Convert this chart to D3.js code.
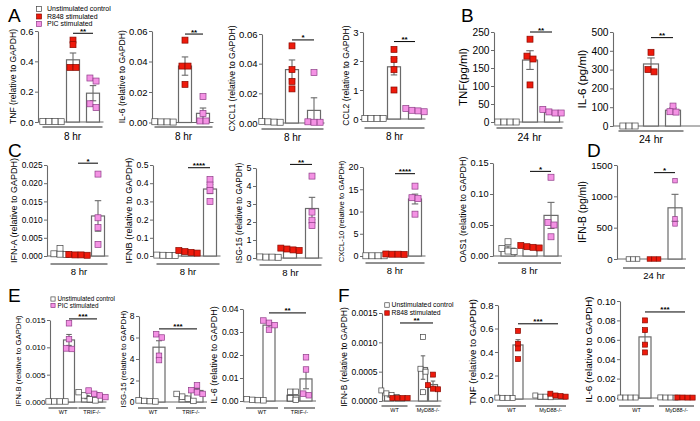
<!DOCTYPE html>
<html><head><meta charset="utf-8">
<script src="https://cdn.jsdelivr.net/npm/d3@7"></script>
<style>body{margin:0;background:#fff}svg{display:block}text{font-family:"Liberation Sans",Arial,sans-serif;fill:#000}</style>
</head><body><svg id="c" width="700" height="421"></svg>
<script>
// ---------- DATA ----------
const groups3 = ["Unstimulated control","R848 stimulated","PIC stimulated"];
const groupsE = ["WT Unstim","WT PIC","TRIF-/- Unstim","TRIF-/- PIC"];
const groupsF = ["WT Unstim","WT R848","MyD88-/- Unstim","MyD88-/- R848"];
const legendA = ["Unstimulated control","R848 stimulated","PIC stimulated"];
const legendE = ["Unstimulated control","PIC stimulated"];
const legendF = ["Unstimulated control","R848 stimulated"];

// A
const a1Mean=[0.003,0.41,0.19], a1Sem=[0.001,0.045,0.05];
const a1Pts=[[0.004,0.003,0.003,0.002],[0.54,0.51,0.36,0.36],[0.29,0.27,0.12,0.095]];
const a1Ticks=[0,0.2,0.4,0.6];
const a2Mean=[0.0004,0.037,0.006], a2Sem=[0.0001,0.006,0.0035];
const a2Pts=[[0.0005,0.0004,0.0003,0.0004],[0.054,0.037,0.037,0.025],[0.017,0.006,0.001,0.001]];
const a2Ticks=[0,0.02,0.04,0.06];
const a3Mean=[0.0007,0.036,0.0085], a3Sem=[0.0002,0.0065,0.0085];
const a3Pts=[[0.001,0.0006,0.0005,0.0008],[0.052,0.036,0.028,0.023],[0.034,0.0008,0.0005,0.0005]];
const a3Ticks=[0,0.02,0.04,0.06];
const a4Mean=[0.02,1.8,0.3], a4Sem=[0.005,0.28,0.03];
const a4Pts=[[0.02,0.02,0.02,0.02],[2.4,2.05,1.7,1.0],[0.36,0.3,0.28,0.25]];
const a4Ticks=[0,1,2,3];
// B
const b1Mean=[0,172,27], b1Sem=[0,26,3];
const b1Pts=[[0,0,0,0],[230,183,175,103],[35,28,25,25]];
const b1Ticks=[0,50,100,150,200,250];
const b2Mean=[0,330,84], b2Sem=[0,32,12];
const b2Pts=[[0,0,0],[392,300,288],[106,76,74]];
const b2Ticks=[0,100,200,300,400,500];
// C
const c1Mean=[0.0009,0.0003,0.011], c1Sem=[0.0004,0.0001,0.0042];
const c1Pts=[[0.0021,0.0006,0.0004,0.0005],[0.0004,0.0003,0.0003,0.0002],[0.0225,0.0105,0.0078,0.0032]];
const c1Ticks=[0,0.005,0.010,0.015,0.020,0.025];
const c2Mean=[0.004,0.022,0.368], c2Sem=[0.001,0.003,0.025];
const c2Pts=[[0.005,0.003,0.003,0.004],[0.03,0.024,0.02,0.016],[0.42,0.39,0.36,0.30]];
const c2Ticks=[0,0.1,0.2,0.3,0.4,0.5];
const c3Mean=[0.05,0.45,2.75], c3Sem=[0.01,0.03,0.62];
const c3Pts=[[0.06,0.05,0.05,0.04],[0.55,0.5,0.45,0.42],[4.55,2.55,2.1,1.8]];
const c3Ticks=[0,1,2,3,4,5];
const c4Mean=[0.05,0.4,12.8], c4Sem=[0.01,0.05,1.1];
const c4Pts=[[0.05,0.05,0.05,0.05],[0.45,0.4,0.4,0.35],[15.7,13.1,12.9,9.4]];
const c4Ticks=[0,5,10,15,20];
const c5Mean=[0.0125,0.015,0.0655], c5Sem=[0.0035,0.001,0.021];
const c5Pts=[[0.023,0.012,0.008,0.007],[0.017,0.015,0.014,0.013],[0.127,0.054,0.05,0.031]];
const c5Ticks=[0,0.05,0.10,0.15];
// D
const d1Mean=[0,0,817], d1Sem=[0,0,215];
const d1Pts=[[0,0,0],[0,0,0],[1250,640,560]];
const d1Ticks=[0,500,1000,1500];
// E
const e1Mean=[0.0001,0.01135,0.0009,0.0014], e1Sem=[0.00003,0.001,0.0003,0.0003];
const e1Pts=[[0.0001,0.0001,0.0001,0.0001],[0.0144,0.0115,0.0098,0.0097],[0.0018,0.0012,0.0005,0.0003],[0.0021,0.0015,0.0012,0.0009]];
const e1Ticks=[0,0.005,0.010,0.015];
const e2Mean=[0.1,5.1,0.41,1.07], e2Sem=[0.03,0.6,0.14,0.18];
const e2Pts=[[0.15,0.1,0.08,0.05],[6.3,6.0,4.3,3.9],[0.75,0.5,0.3,0.1],[1.55,1.1,0.9,0.75]];
const e2Ticks=[0,2,4,6,8];
const e3Mean=[0.0005,0.033,0.0025,0.0096], e3Sem=[0.0002,0.001,0.001,0.0043];
const e3Pts=[[0.0008,0.0005,0.0004,0.0003],[0.035,0.034,0.033,0.031],[0.004,0.004,0.0012,0.0005],[0.019,0.0137,0.0032,0.0025]];
const e3Ticks=[0,0.01,0.02,0.03,0.04];
// F
const f1Mean=[0.0001,0.00005,0.00057,0.00028], f1Sem=[0.00003,0.000005,0.0002,0.00006];
const f1Pts=[[0.00018,0.00013,0.0001,0.00007],[0.00005,0.00005,0.00005,0.00005],[0.00109,0.00055,0.0005,0.00015],[0.00045,0.00027,0.00021,0.0002]];
const f1Ticks=[0,0.0005,0.0010,0.0015];
const f2Mean=[0.01,0.46,0.02,0.03], f2Sem=[0.002,0.045,0.004,0.006];
const f2Pts=[[0.012,0.01,0.01,0.008],[0.58,0.47,0.43,0.34],[0.03,0.02,0.02,0.015],[0.045,0.03,0.025,0.02]];
const f2Ticks=[0,0.2,0.4,0.6,0.8];
const f3Mean=[0.0005,0.063,0.0005,0.0005], f3Sem=[0.0001,0.0075,0.0001,0.0001];
const f3Pts=[[0.0005,0.0005,0.0005,0.0005],[0.08,0.07,0.055,0.047],[0.0006,0.0005,0.0005,0.0004],[0.0005,0.0005,0.0004,0.0004]];
const f3Ticks=[0,0.02,0.04,0.06,0.08,0.10];

// ---------- STYLES ----------
const kindStyle = {
  u:{fill:"#fff", stroke:"#444"},
  r:{fill:"#ee1a0c", stroke:"#8a0a00"},
  p:{fill:"#f492e4", stroke:"#8e3c88"}
};
const K3=["u","r","p"], KE=["u","p","u","p"], KF=["u","r","u","r"];

// ---------- LAYOUT ----------
const panels = [
 {g:groups3,m:a1Mean,s:a1Sem,p:a1Pts,t:a1Ticks,f:".1f",yl:"TNF (relative to GAPDH)",ylfs:8.6,tfs:9.5,ax:38,top:31,zero:122,xs:[52,73,93],bw:13,ms:6,k:K3,sig:[1,2,0.585,"**"],grp:[[0,2,"8 hr",127,140,10]]},
 {g:groups3,m:a2Mean,s:a2Sem,p:a2Pts,t:a2Ticks,f:".2f",yl:"IL-6 (relative to GAPDH)",ylfs:8.6,tfs:9.5,ax:152,top:31,zero:122.5,xs:[164,185,203],bw:13,ms:6,k:K3,sig:[1,2,0.058,"**"],grp:[[0,2,"8 hr",127,140,10]]},
 {g:groups3,m:a3Mean,s:a3Sem,p:a3Pts,t:a3Ticks,f:".2f",yl:"CXCL1 (relative to GAPDH)",ylfs:8.6,tfs:9.5,ax:262,top:34,zero:123,xs:[271,292,314],bw:13,ms:6,k:K3,sig:[1,2,0.056,"*"],grp:[[0,2,"8 hr",129,141,10]]},
 {g:groups3,m:a4Mean,s:a4Sem,p:a4Pts,t:a4Ticks,f:"d",yl:"CCL2 (relative to GAPDH)",ylfs:8.6,tfs:9.5,ax:363,top:32,zero:119,xs:[374,394,415],bw:13,ms:6,k:K3,sig:[1,2,2.67,"**"],grp:[[0,2,"8 hr",128,140,10]]},
 {g:groups3,m:b1Mean,s:b1Sem,p:b1Pts,t:b1Ticks,f:"d",yl:"TNF(pg/ml)",ylfs:11.5,tfs:10.2,ax:494,top:32,zero:122,xs:[507,530,552],bw:15,ms:6,k:K3,sig:[1,2,250,"**"],grp:[[0,2,"24 hr",128,141,10.5]]},
 {g:groups3,m:b2Mean,s:b2Sem,p:b2Pts,t:b2Ticks,f:"d",yl:"IL-6 (pg/ml)",ylfs:11.5,tfs:10.2,ax:613,top:32,zero:126,xs:[629,651,673],bw:15,ms:6,k:K3,sig:[1,2,470,"**"],grp:[[0,2,"24 hr",131,143,10.5]],xend:700},
 {g:groups3,m:c1Mean,s:c1Sem,p:c1Pts,t:c1Ticks,f:".3f",yl:"IFN-A (relative to GAPDH)",ylfs:9,tfs:8.3,ax:47,top:165,zero:256,xs:[60,78,98],bw:13,ms:6,k:K3,sig:[1,2,0.0255,"*"],grp:[[0,2,"8 hr",264,275,9.5]]},
 {g:groups3,m:c2Mean,s:c2Sem,p:c2Pts,t:c2Ticks,f:".1f",yl:"IFNB (relative to GAPDH)",ylfs:9.3,tfs:8.6,ax:153,top:165,zero:256,xs:[166,188,210],bw:13,ms:6,k:K3,sig:[1,2,0.485,"****"],grp:[[0,2,"8 hr",264,275,9.5]]},
 {g:groups3,m:c3Mean,s:c3Sem,p:c3Pts,t:c3Ticks,f:"d",yl:"ISG-15 (relative to GAPDH)",ylfs:8.2,tfs:9,ax:256,top:168,zero:258,xs:[269,290,312],bw:13,ms:6,k:K3,sig:[1,2,5.2,"**"],grp:[[0,2,"8 hr",265,276,9.5]]},
 {g:groups3,m:c4Mean,s:c4Sem,p:c4Pts,t:c4Ticks,f:"d",yl:"CXCL-10 (relative to GAPDH)",ylfs:7.7,tfs:9,ax:363,top:167,zero:256,xs:[375,395,415],bw:13,ms:6,k:K3,sig:[1,2,18.5,"****"],grp:[[0,2,"8 hr",263,274,9.5]]},
 {g:groups3,m:c5Mean,s:c5Sem,p:c5Pts,t:c5Ticks,f:".2f",yl:"OAS1 (relative to GAPDH)",ylfs:9,tfs:9.2,ax:493,top:163,zero:256,xs:[508,530,551],bw:14,ms:6,k:K3,sig:[1,2,0.1365,"*"],grp:[[0,2,"8 hr",263,274,9.5]]},
 {g:groups3,m:d1Mean,s:d1Sem,p:d1Pts,t:d1Ticks,f:"d",yl:"IFN-B (pg/ml)",ylfs:10.3,tfs:9.6,ax:617,top:165,zero:259,xs:[633,654,675],bw:14,ms:4.5,k:K3,sig:[1,2,1378,"*"],grp:[[0,2,"24 hr",268,279,9.5]]},
 {g:groupsE,m:e1Mean,s:e1Sem,p:e1Pts,t:e1Ticks,f:".3f",yl:"IFN-B (relative to GAPDH)",ylfs:7.8,tfs:8,ax:50,top:320,zero:402,xs:[57,69,87,97],bw:11,ms:5.5,k:KE,sig:[1,3,0.0152,"***"],grp:[[0,1,"WT",408,414,5.5],[2,3,"TRIF-/-",408,414,5.5]]},
 {g:groupsE,m:e2Mean,s:e2Sem,p:e2Pts,t:e2Ticks,f:"d",yl:"ISG-15 (relative to GAPDH)",ylfs:7.9,tfs:8.5,ax:139,top:316,zero:402,xs:[147,159,185,197],bw:12,ms:5.5,k:KE,sig:[1,3,6.8,"***"],grp:[[0,1,"WT",408,414,5.5],[2,3,"TRIF-/-",408,414,5.5]]},
 {g:groupsE,m:e3Mean,s:e3Sem,p:e3Pts,t:e3Ticks,f:".2f",yl:"IL-6 (relative to GAPDH)",ylfs:9,tfs:8.5,ax:243,top:309,zero:401,xs:[255,269,293,306],bw:12,ms:5.5,k:KE,sig:[1,3,0.0383,"**"],grp:[[0,1,"WT",408,414,5.5],[2,3,"TRIF-/-",408,414,5.5]]},
 {g:groupsF,m:f1Mean,s:f1Sem,p:f1Pts,t:f1Ticks,f:".4f",yl:"IFN-B (relative to GAPDH)",ylfs:8.5,tfs:8.5,ax:382,top:313,zero:401,xs:[389,400,423,433],bw:9,ms:5,k:KF,sig:[1,3,0.00133,"**"],grp:[[0,1,"WT",406,412,5.5],[2,3,"MyD88-/-",406,412,5.5]]},
 {g:groupsF,m:f2Mean,s:f2Sem,p:f2Pts,t:f2Ticks,f:".1f",yl:"TNF (relative to GAPDH)",ylfs:9.6,tfs:9.5,ax:498,top:305,zero:399,xs:[505,518,543,558],bw:10,ms:5,k:KF,sig:[1,3,0.64,"***"],grp:[[0,1,"WT",406,412,5.5],[2,3,"MyD88-/-",406,412,5.5]]},
 {g:groupsF,m:f3Mean,s:f3Sem,p:f3Pts,t:f3Ticks,f:".2f",yl:"IL-6 (relative to GAPDH)",ylfs:9.8,tfs:9.5,ax:620,top:301,zero:398,xs:[628,645,668,685],bw:12,ms:5,k:KF,sig:[1,3,0.0887,"***"],grp:[[0,1,"WT",406,412,5.5],[2,3,"MyD88-/-",406,412,5.5]]}
];
const letters=[["A",8,22],["B",461,22],["C",8,157],["D",587,157],["E",8,302],["F",338,302]];
const legends=[
 {items:legendA,k:["u","r","p"],x:39,ys:[9,16.5,24],tx:47,fs:7,sz:5},
 {items:legendE,k:["u","p"],x:53,ys:[299,305.5],tx:57.5,fs:6.3,sz:4.2},
 {items:legendF,k:["u","r"],x:387,ys:[305,313],tx:391.5,fs:6.8,sz:4.5}
];

// ---------- DRAW ----------
const svg=d3.select("#c");
const AX="#6a6a6a";

function swarm(vals,y,ms){
  const arr=vals.map(v=>({v,py:y(v)})).sort((a,b)=>a.py-b.py);
  const cl=[];let cur=[];
  arr.forEach(p=>{if(cur.length&&p.py-cur[cur.length-1].py>=ms*0.75){cl.push(cur);cur=[];}cur.push(p);});
  if(cur.length)cl.push(cur);
  cl.forEach(c=>c.forEach((p,i)=>p.dx=(i-(c.length-1)/2)*ms*1.02));
  return arr;
}

panels.forEach(P=>{
  const g=svg.append("g");
  const y=d3.scaleLinear().domain([0,P.t[P.t.length-1]]).range([P.zero,P.top]);
  const x=d3.scaleOrdinal().domain(P.g).range(P.xs);
  // x axis line
  const xend=P.xend||(x(P.g[P.g.length-1])+P.bw/2+4);
  g.append("line").attr("x1",P.ax).attr("x2",xend).attr("y1",y(0)).attr("y2",y(0)).attr("stroke",AX).attr("stroke-width",1);
  // y axis
  const yAxis=d3.axisLeft(y).tickValues(P.t).tickFormat(d3.format(P.f)).tickSize(3).tickSizeOuter(0).tickPadding(1.5);
  const ga=g.append("g").attr("transform",`translate(${P.ax},0)`).call(yAxis);
  ga.select(".domain").attr("stroke",AX).attr("stroke-width",1.1);
  ga.selectAll(".tick line").attr("stroke",AX).attr("stroke-width",1);
  ga.selectAll(".tick text").attr("font-size",P.tfs).attr("fill","#000").attr("font-family","Liberation Sans, Arial, sans-serif");
  // y label placed just left of the tick labels
  let minX=Infinity;
  ga.selectAll(".tick text").each(function(){const b=this.getBBox();minX=Math.min(minX,b.x);});
  const bx=P.ax+minX-2.5-0.22*P.ylfs;
  const ymid=(P.top+P.zero)/2;
  g.append("text").attr("transform",`translate(${bx},${ymid}) rotate(-90)`).attr("text-anchor","middle").attr("font-size",P.ylfs).text(P.yl);
  // bars
  P.g.forEach((name,i)=>{
    const cx=x(name), mv=P.m[i];
    g.append("rect").attr("x",cx-P.bw/2).attr("width",P.bw).attr("y",y(mv)).attr("height",Math.max(0,y(0)-y(mv)))
      .attr("fill","#fff").attr("stroke",AX).attr("stroke-width",1.2);
  });
  // error bars
  P.g.forEach((name,i)=>{
    const cx=x(name), mv=P.m[i], se=P.s[i];
    if(se<=0) return;
    const y1=y(mv+se), y2=y(Math.max(0,mv-se)), cw=P.bw*0.25;
    g.append("line").attr("x1",cx).attr("x2",cx).attr("y1",y1).attr("y2",y2).attr("stroke",AX).attr("stroke-width",1.1);
    g.append("line").attr("x1",cx-cw).attr("x2",cx+cw).attr("y1",y1).attr("y2",y1).attr("stroke",AX).attr("stroke-width",1.1);
    g.append("line").attr("x1",cx-cw).attr("x2",cx+cw).attr("y1",y2).attr("y2",y2).attr("stroke",AX).attr("stroke-width",1.1);
  });
  // points
  P.g.forEach((name,i)=>{
    const cx=x(name), st=kindStyle[P.k[i]];
    swarm(P.p[i],y,P.ms).forEach(pt=>{
      g.append("rect").attr("x",cx+pt.dx-P.ms/2).attr("y",pt.py-P.ms/2).attr("width",P.ms).attr("height",P.ms)
        .attr("fill",st.fill).attr("stroke",st.stroke).attr("stroke-width",0.7);
    });
  });
  // significance
  const [sa,sb,sv,st]=P.sig;
  const sx1=x(P.g[sa]), sx2=x(P.g[sb]), sy=y(sv);
  g.append("line").attr("x1",sx1).attr("x2",sx2).attr("y1",sy).attr("y2",sy).attr("stroke","#000").attr("stroke-width",1);
  g.append("text").attr("x",(sx1+sx2)/2).attr("y",sy+0.5).attr("text-anchor","middle").attr("font-size",8).attr("font-weight","bold").text(st);
  // group lines
  P.grp.forEach(([ga_,gb,lab,ly,lby,lfs])=>{
    const xa=x(P.g[ga_])-P.bw/2-3, xb=x(P.g[gb])+P.bw/2+3;
    g.append("line").attr("x1",xa).attr("x2",xb).attr("y1",ly).attr("y2",ly).attr("stroke","#222").attr("stroke-width",1);
    g.append("text").attr("x",(xa+xb)/2).attr("y",lby).attr("text-anchor","middle").attr("font-size",lfs).text(lab);
  });
});

letters.forEach(([t,lx,ly])=>svg.append("text").attr("x",lx).attr("y",ly).attr("font-size",19).text(t));

legends.forEach(L=>{
  L.items.forEach((t,i)=>{
    const st=kindStyle[L.k[i]];
    svg.append("rect").attr("x",L.x-L.sz/2).attr("y",L.ys[i]-L.sz/2).attr("width",L.sz).attr("height",L.sz)
      .attr("fill",st.fill).attr("stroke",st.stroke).attr("stroke-width",0.7);
    svg.append("text").attr("x",L.tx).attr("y",L.ys[i]+L.fs*0.35).attr("font-size",L.fs).text(t);
  });
});
</script></body></html>
